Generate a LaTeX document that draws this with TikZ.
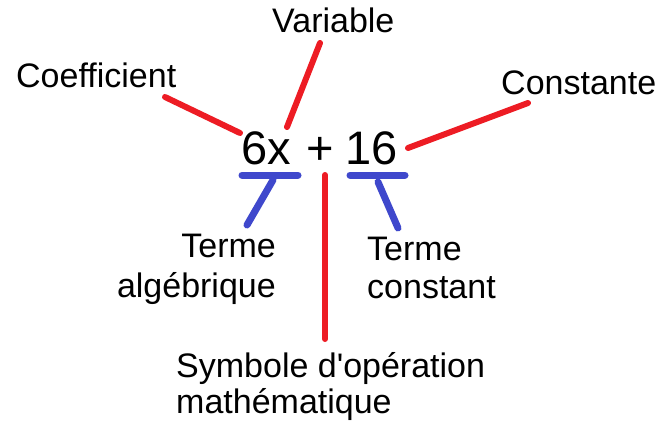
\documentclass[tikz,border=0pt]{standalone}
\usepackage{fontspec}
\setmainfont{Liberation Sans}
\usepackage{xcolor}
\definecolor{paintred}{RGB}{237,28,36}
\definecolor{paintblue}{RGB}{63,72,204}

\tikzset{
  lbl/.style={inner sep=0pt, font=\fontsize{34}{39}\selectfont},
  expr/.style={inner sep=0pt, font=\fontsize{47}{47}\selectfont},
  redline/.style={draw=paintred, line width=6pt, line cap=round},
  blueline/.style={draw=paintblue, line width=7pt, line cap=round},
}

\begin{document}
\begin{tikzpicture}[x=1pt,y=-1pt]
\useasboundingbox (0,0) rectangle (667,423);

% labels
\node[lbl, anchor=base west] (coef) at (16,87) {Coefficient};
\node[lbl, anchor=base west] (var) at (272,32) {Variable};
\node[lbl, anchor=base west] (cst) at (501,94) {Constante};
\node[lbl, anchor=base east, align=right, font=\fontsize{34}{40}\selectfont] (talg) at (276,297) {Terme\\algébrique};
\node[lbl, anchor=base west, align=left, font=\fontsize{34}{38}\selectfont] (tcst) at (367,298) {Terme\\constant};
\node[lbl, anchor=base west, align=left, font=\fontsize{34}{36}\selectfont] (symb) at (176,413) {Symbole d\textquotesingle opération\\mathématique};

% expression
\node[expr, anchor=base west] (sixx) at (241,164) {6x};
\node[expr, anchor=base west] (plus) at (306,164) {+};
\node[expr, anchor=base west] (sixteen) at (345,164) {16};

% line ends
\coordinate (coefA) at (165,97);  \coordinate (coefB) at (240,133);
\coordinate (varA) at (320,43);   \coordinate (varB) at (287,127);
\coordinate (cstA) at (528,103);  \coordinate (cstB) at (408,148);
\coordinate (opA) at (325,175);   \coordinate (opB) at (325,339);
\coordinate (ulA) at (242,175);   \coordinate (ulB) at (298,175);
\coordinate (ulC) at (273,180);   \coordinate (ulD) at (247,225);
\coordinate (urA) at (350,175);   \coordinate (urB) at (405,175);
\coordinate (urC) at (378,182);   \coordinate (urD) at (398,228);

\draw[redline] (coefA) -- (coefB);
\draw[redline] (varA) -- (varB);
\draw[redline] (cstA) -- (cstB);
\draw[redline] (opA) -- (opB);

\draw[blueline] (ulA) -- (ulB);
\draw[blueline] (ulC) -- (ulD);
\draw[blueline] (urA) -- (urB);
\draw[blueline] (urC) -- (urD);
\end{tikzpicture}
\end{document}
